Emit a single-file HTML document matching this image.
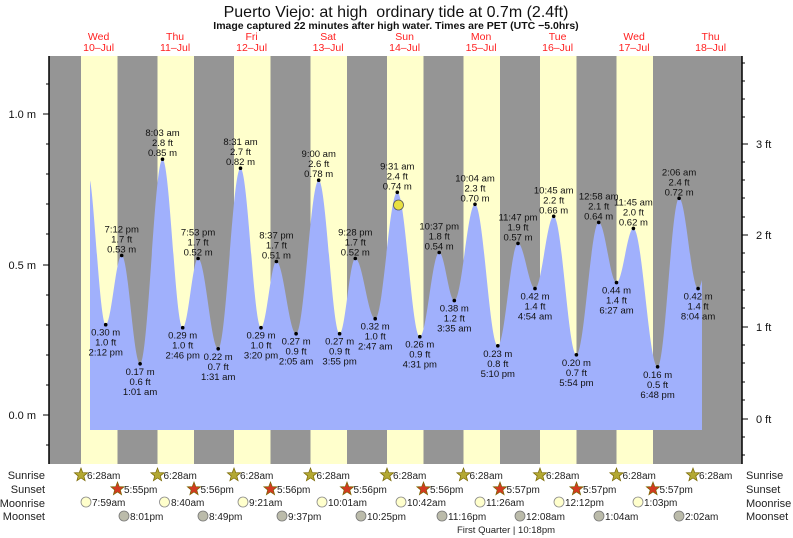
<!DOCTYPE html>
<html><head><meta charset="utf-8"><style>
html,body{margin:0;padding:0;background:#fff;}
svg{display:block;font-family:"Liberation Sans",sans-serif;}
.l{font-size:9.5px;fill:#111;text-anchor:middle;}
.b{font-size:11px;fill:#222;}
</style></head><body>
<svg width="793" height="538" viewBox="0 0 793 538" xmlns="http://www.w3.org/2000/svg">
<defs>
<polygon id="st" points="0,-7 1.76,-2.43 6.66,-2.16 2.85,0.93 4.11,5.66 0,3 -4.11,5.66 -2.85,0.93 -6.66,-2.16 -1.76,-2.43"/>
</defs>
<rect width="793" height="538" fill="#fff"/>
<text x="396" y="17" font-size="16" text-anchor="middle" fill="#111" xml:space="preserve">Puerto Viejo: at high  ordinary tide at 0.7m (2.4ft)</text>
<text x="396" y="29" font-size="10.5" font-weight="bold" text-anchor="middle" fill="#111">Image captured 22 minutes after high water. Times are PET (UTC −5.0hrs)</text>
<g font-size="10.5" fill="#ff2020" text-anchor="middle">
<text x="98.6" y="40">Wed</text><text x="98.6" y="51">10–Jul</text>
<text x="175.1" y="40">Thu</text><text x="175.1" y="51">11–Jul</text>
<text x="251.6" y="40">Fri</text><text x="251.6" y="51">12–Jul</text>
<text x="328.1" y="40">Sat</text><text x="328.1" y="51">13–Jul</text>
<text x="404.6" y="40">Sun</text><text x="404.6" y="51">14–Jul</text>
<text x="481.1" y="40">Mon</text><text x="481.1" y="51">15–Jul</text>
<text x="557.6" y="40">Tue</text><text x="557.6" y="51">16–Jul</text>
<text x="634.1" y="40">Wed</text><text x="634.1" y="51">17–Jul</text>
<text x="710.6" y="40">Thu</text><text x="710.6" y="51">18–Jul</text>
</g>
<rect x="49" y="56" width="693" height="408" fill="#959595"/>
<g fill="#ffffcc">
<rect x="81" y="56" width="36.5" height="408"/>
<rect x="157.5" y="56" width="36.5" height="408"/>
<rect x="234" y="56" width="36.5" height="408"/>
<rect x="310.5" y="56" width="36.5" height="408"/>
<rect x="387" y="56" width="36.5" height="408"/>
<rect x="463.5" y="56" width="36.5" height="408"/>
<rect x="540" y="56" width="36.5" height="408"/>
<rect x="616.5" y="56" width="36.5" height="408"/>
</g>
<path fill="#a0b0fc" d="M90,430 L90,180.5 C94,195 100,324.7 105.7,324.7
C111.5,324.7 115.9,255.5 121.7,255.5
C128.3,255.5 133.5,363.8 140.1,363.8
C148.2,363.8 154.4,159.2 162.5,159.2
C169.8,159.2 175.4,327.7 182.7,327.7
C188.2,327.7 192.6,258.5 198.1,258.5
C205.3,258.5 211,348.8 218.2,348.8
C226.2,348.8 232.5,168.2 240.5,168.2
C247.9,168.2 253.6,327.7 261,327.7
C266.5,327.7 270.9,261.5 276.4,261.5
C283.5,261.5 289,333.7 296.1,333.7
C304.2,333.7 310.6,180.2 318.7,180.2
C326.2,180.2 332.1,333.7 339.6,333.7
C345.3,333.7 349.6,258.5 355.3,258.5
C362.5,258.5 368,318.7 375.2,318.7
C383.2,318.7 389.3,192.3 397.3,192.3
C405.4,192.3 411.7,336.7 419.8,336.7
C426.8,336.7 432.2,252.5 439.2,252.5
C444.6,252.5 448.9,300.6 454.3,300.6
C461.8,300.6 467.5,204.3 475,204.3
C483.2,204.3 489.6,345.8 497.8,345.8
C505.1,345.8 510.7,243.4 518,243.4
C524.1,243.4 528.9,288.6 535,288.6
C541.7,288.6 547,216.3 553.7,216.3
C561.9,216.3 568.2,354.8 576.4,354.8
C584.4,354.8 590.7,222.4 598.7,222.4
C605.1,222.4 610.1,282.6 616.5,282.6
C622.6,282.6 627.3,228.4 633.4,228.4
C642.1,228.4 648.9,366.8 657.6,366.8
C665.3,366.8 671.4,198.3 679.1,198.3
C685.9,198.3 691.3,288.6 698.1,288.6
C699.5,288.6 701,284 702,280 L702,430 Z"/>
<line x1="49" y1="56" x2="49" y2="464" stroke="#000" stroke-width="1.5"/>
<line x1="742" y1="56" x2="742" y2="464" stroke="#000" stroke-width="1.5"/>
<g stroke="#000" stroke-width="1">
<line x1="43" y1="114" x2="49" y2="114"/><line x1="43" y1="265" x2="49" y2="265"/><line x1="43" y1="415" x2="49" y2="415"/>
<line x1="46" y1="84" x2="49" y2="84"/><line x1="46" y1="144" x2="49" y2="144"/><line x1="46" y1="174" x2="49" y2="174"/><line x1="46" y1="204" x2="49" y2="204"/><line x1="46" y1="234" x2="49" y2="234"/><line x1="46" y1="295" x2="49" y2="295"/><line x1="46" y1="325" x2="49" y2="325"/><line x1="46" y1="355" x2="49" y2="355"/><line x1="46" y1="385" x2="49" y2="385"/><line x1="46" y1="445" x2="49" y2="445"/>
<line x1="742" y1="144" x2="748" y2="144"/><line x1="742" y1="235" x2="748" y2="235"/><line x1="742" y1="327" x2="748" y2="327"/><line x1="742" y1="419" x2="748" y2="419"/>
<line x1="742" y1="63" x2="745" y2="63"/><line x1="742" y1="81" x2="745" y2="81"/><line x1="742" y1="99" x2="745" y2="99"/><line x1="742" y1="117" x2="745" y2="117"/><line x1="742" y1="162" x2="745" y2="162"/><line x1="742" y1="180" x2="745" y2="180"/><line x1="742" y1="198" x2="745" y2="198"/><line x1="742" y1="217" x2="745" y2="217"/><line x1="742" y1="253" x2="745" y2="253"/><line x1="742" y1="272" x2="745" y2="272"/><line x1="742" y1="290" x2="745" y2="290"/><line x1="742" y1="308" x2="745" y2="308"/><line x1="742" y1="345" x2="745" y2="345"/><line x1="742" y1="363" x2="745" y2="363"/><line x1="742" y1="382" x2="745" y2="382"/><line x1="742" y1="400" x2="745" y2="400"/><line x1="742" y1="437" x2="745" y2="437"/><line x1="742" y1="455" x2="745" y2="455"/>
</g>
<g font-size="11" fill="#111" text-anchor="end">
<text x="36" y="118">1.0 m</text><text x="36" y="269">0.5 m</text><text x="36" y="419">0.0 m</text>
</g>
<g font-size="11" fill="#111">
<text x="756" y="148">3 ft</text><text x="756" y="239">2 ft</text><text x="756" y="331">1 ft</text><text x="756" y="423">0 ft</text>
</g>
<circle cx="398.5" cy="205" r="5" fill="#e8e040" stroke="#555" stroke-width="0.8"/>
<g fill="#000">
<circle cx="105.7" cy="324.7" r="1.8"/><circle cx="121.7" cy="255.5" r="1.8"/><circle cx="140.1" cy="363.8" r="1.8"/><circle cx="162.5" cy="159.2" r="1.8"/><circle cx="182.7" cy="327.7" r="1.8"/><circle cx="198.1" cy="258.5" r="1.8"/><circle cx="218.2" cy="348.8" r="1.8"/><circle cx="240.5" cy="168.2" r="1.8"/><circle cx="261" cy="327.7" r="1.8"/><circle cx="276.4" cy="261.5" r="1.8"/><circle cx="296.1" cy="333.7" r="1.8"/><circle cx="318.7" cy="180.2" r="1.8"/><circle cx="339.6" cy="333.7" r="1.8"/><circle cx="355.3" cy="258.5" r="1.8"/><circle cx="375.2" cy="318.7" r="1.8"/><circle cx="397.3" cy="192.3" r="1.8"/><circle cx="419.8" cy="336.7" r="1.8"/><circle cx="439.2" cy="252.5" r="1.8"/><circle cx="454.3" cy="300.6" r="1.8"/><circle cx="475" cy="204.3" r="1.8"/><circle cx="497.8" cy="345.8" r="1.8"/><circle cx="518" cy="243.4" r="1.8"/><circle cx="535" cy="288.6" r="1.8"/><circle cx="553.7" cy="216.3" r="1.8"/><circle cx="576.4" cy="354.8" r="1.8"/><circle cx="598.7" cy="222.4" r="1.8"/><circle cx="616.5" cy="282.6" r="1.8"/><circle cx="633.4" cy="228.4" r="1.8"/><circle cx="657.6" cy="366.8" r="1.8"/><circle cx="679.1" cy="198.3" r="1.8"/><circle cx="698.1" cy="288.6" r="1.8"/>
</g>
<g class="l">
<text x="105.7" y="335.7" class="l">0.30 m</text><text x="105.7" y="345.7" class="l">1.0 ft</text><text x="105.7" y="355.7" class="l">2:12 pm</text>
<text x="140.1" y="374.8" class="l">0.17 m</text><text x="140.1" y="384.8" class="l">0.6 ft</text><text x="140.1" y="394.8" class="l">1:01 am</text>
<text x="182.7" y="338.7" class="l">0.29 m</text><text x="182.7" y="348.7" class="l">1.0 ft</text><text x="182.7" y="358.7" class="l">2:46 pm</text>
<text x="218.2" y="359.8" class="l">0.22 m</text><text x="218.2" y="369.8" class="l">0.7 ft</text><text x="218.2" y="379.8" class="l">1:31 am</text>
<text x="261" y="338.7" class="l">0.29 m</text><text x="261" y="348.7" class="l">1.0 ft</text><text x="261" y="358.7" class="l">3:20 pm</text>
<text x="296.1" y="344.7" class="l">0.27 m</text><text x="296.1" y="354.7" class="l">0.9 ft</text><text x="296.1" y="364.7" class="l">2:05 am</text>
<text x="339.6" y="344.7" class="l">0.27 m</text><text x="339.6" y="354.7" class="l">0.9 ft</text><text x="339.6" y="364.7" class="l">3:55 pm</text>
<text x="375.2" y="329.7" class="l">0.32 m</text><text x="375.2" y="339.7" class="l">1.0 ft</text><text x="375.2" y="349.7" class="l">2:47 am</text>
<text x="419.8" y="347.7" class="l">0.26 m</text><text x="419.8" y="357.7" class="l">0.9 ft</text><text x="419.8" y="367.7" class="l">4:31 pm</text>
<text x="454.3" y="311.6" class="l">0.38 m</text><text x="454.3" y="321.6" class="l">1.2 ft</text><text x="454.3" y="331.6" class="l">3:35 am</text>
<text x="497.8" y="356.8" class="l">0.23 m</text><text x="497.8" y="366.8" class="l">0.8 ft</text><text x="497.8" y="376.8" class="l">5:10 pm</text>
<text x="535" y="299.6" class="l">0.42 m</text><text x="535" y="309.6" class="l">1.4 ft</text><text x="535" y="319.6" class="l">4:54 am</text>
<text x="576.4" y="365.8" class="l">0.20 m</text><text x="576.4" y="375.8" class="l">0.7 ft</text><text x="576.4" y="385.8" class="l">5:54 pm</text>
<text x="616.5" y="293.6" class="l">0.44 m</text><text x="616.5" y="303.6" class="l">1.4 ft</text><text x="616.5" y="313.6" class="l">6:27 am</text>
<text x="657.6" y="377.8" class="l">0.16 m</text><text x="657.6" y="387.8" class="l">0.5 ft</text><text x="657.6" y="397.8" class="l">6:48 pm</text>
<text x="698.1" y="299.6" class="l">0.42 m</text><text x="698.1" y="309.6" class="l">1.4 ft</text><text x="698.1" y="319.6" class="l">8:04 am</text>
<text x="121.7" y="232.5" class="l">7:12 pm</text><text x="121.7" y="242.5" class="l">1.7 ft</text><text x="121.7" y="252.5" class="l">0.53 m</text>
<text x="162.5" y="136.2" class="l">8:03 am</text><text x="162.5" y="146.2" class="l">2.8 ft</text><text x="162.5" y="156.2" class="l">0.85 m</text>
<text x="198.1" y="235.5" class="l">7:53 pm</text><text x="198.1" y="245.5" class="l">1.7 ft</text><text x="198.1" y="255.5" class="l">0.52 m</text>
<text x="240.5" y="145.2" class="l">8:31 am</text><text x="240.5" y="155.2" class="l">2.7 ft</text><text x="240.5" y="165.2" class="l">0.82 m</text>
<text x="276.4" y="238.5" class="l">8:37 pm</text><text x="276.4" y="248.5" class="l">1.7 ft</text><text x="276.4" y="258.5" class="l">0.51 m</text>
<text x="318.7" y="157.2" class="l">9:00 am</text><text x="318.7" y="167.2" class="l">2.6 ft</text><text x="318.7" y="177.2" class="l">0.78 m</text>
<text x="355.3" y="235.5" class="l">9:28 pm</text><text x="355.3" y="245.5" class="l">1.7 ft</text><text x="355.3" y="255.5" class="l">0.52 m</text>
<text x="397.3" y="169.3" class="l">9:31 am</text><text x="397.3" y="179.3" class="l">2.4 ft</text><text x="397.3" y="189.3" class="l">0.74 m</text>
<text x="439.2" y="229.5" class="l">10:37 pm</text><text x="439.2" y="239.5" class="l">1.8 ft</text><text x="439.2" y="249.5" class="l">0.54 m</text>
<text x="475" y="181.3" class="l">10:04 am</text><text x="475" y="191.3" class="l">2.3 ft</text><text x="475" y="201.3" class="l">0.70 m</text>
<text x="518" y="220.4" class="l">11:47 pm</text><text x="518" y="230.4" class="l">1.9 ft</text><text x="518" y="240.4" class="l">0.57 m</text>
<text x="553.7" y="193.3" class="l">10:45 am</text><text x="553.7" y="203.3" class="l">2.2 ft</text><text x="553.7" y="213.3" class="l">0.66 m</text>
<text x="598.7" y="199.4" class="l">12:58 am</text><text x="598.7" y="209.4" class="l">2.1 ft</text><text x="598.7" y="219.4" class="l">0.64 m</text>
<text x="633.4" y="205.4" class="l">11:45 am</text><text x="633.4" y="215.4" class="l">2.0 ft</text><text x="633.4" y="225.4" class="l">0.62 m</text>
<text x="679.1" y="175.3" class="l">2:06 am</text><text x="679.1" y="185.3" class="l">2.4 ft</text><text x="679.1" y="195.3" class="l">0.72 m</text>
</g>
<g class="b" text-anchor="end">
<text x="45" y="479">Sunrise</text><text x="45" y="493">Sunset</text><text x="45" y="507">Moonrise</text><text x="45" y="520">Moonset</text>
</g>
<g class="b">
<text x="746" y="479">Sunrise</text><text x="746" y="493">Sunset</text><text x="746" y="507">Moonrise</text><text x="746" y="520">Moonset</text>
</g>
<g fill="#b3a833" stroke="#776600" stroke-width="0.7">
<use href="#st" x="81" y="475"/><use href="#st" x="157.5" y="475"/><use href="#st" x="234" y="475"/><use href="#st" x="310.5" y="475"/><use href="#st" x="387" y="475"/><use href="#st" x="463.5" y="475"/><use href="#st" x="540" y="475"/><use href="#st" x="616.5" y="475"/><use href="#st" x="693" y="475"/>
</g>
<g fill="#d23a20" stroke="#776600" stroke-width="0.7">
<use href="#st" x="117.5" y="489"/><use href="#st" x="194" y="489"/><use href="#st" x="270.5" y="489"/><use href="#st" x="347" y="489"/><use href="#st" x="423.5" y="489"/><use href="#st" x="500" y="489"/><use href="#st" x="576.5" y="489"/><use href="#st" x="653" y="489"/>
</g>
<g font-size="10" fill="#222">
<text x="87" y="479">6:28am</text><text x="163.5" y="479">6:28am</text><text x="240" y="479">6:28am</text><text x="316.5" y="479">6:28am</text><text x="393" y="479">6:28am</text><text x="469.5" y="479">6:28am</text><text x="546" y="479">6:28am</text><text x="622.5" y="479">6:28am</text><text x="699" y="479">6:28am</text>
<text x="124" y="493">5:55pm</text><text x="200.5" y="493">5:56pm</text><text x="277" y="493">5:56pm</text><text x="353.5" y="493">5:56pm</text><text x="430" y="493">5:56pm</text><text x="506.5" y="493">5:57pm</text><text x="583" y="493">5:57pm</text><text x="659.5" y="493">5:57pm</text>
<text x="92" y="506">7:59am</text><text x="171" y="506">8:40am</text><text x="249" y="506">9:21am</text><text x="328" y="506">10:01am</text><text x="407" y="506">10:42am</text><text x="486" y="506">11:26am</text><text x="565" y="506">12:12pm</text><text x="644" y="506">1:03pm</text>
<text x="130" y="520">8:01pm</text><text x="209" y="520">8:49pm</text><text x="288" y="520">9:37pm</text><text x="367" y="520">10:25pm</text><text x="448" y="520">11:16pm</text><text x="526" y="520">12:08am</text><text x="605" y="520">1:04am</text><text x="685" y="520">2:02am</text>
<text x="506" y="533" text-anchor="middle" font-size="9.5">First Quarter | 10:18pm</text>
</g>
<g stroke="#888" stroke-width="0.8" fill="#ffffcc">
<circle cx="86" cy="502" r="5"/><circle cx="164.5" cy="502" r="5"/><circle cx="243" cy="502" r="5"/><circle cx="322" cy="502" r="5"/><circle cx="401" cy="502" r="5"/><circle cx="480" cy="502" r="5"/><circle cx="559" cy="502" r="5"/><circle cx="638" cy="502" r="5"/>
</g>
<g stroke="#777" stroke-width="0.8" fill="#bbbbaa">
<circle cx="124" cy="516" r="5"/><circle cx="203" cy="516" r="5"/><circle cx="282" cy="516" r="5"/><circle cx="361" cy="516" r="5"/><circle cx="442" cy="516" r="5"/><circle cx="520" cy="516" r="5"/><circle cx="599" cy="516" r="5"/><circle cx="679" cy="516" r="5"/>
</g>
</svg>
</body></html>
